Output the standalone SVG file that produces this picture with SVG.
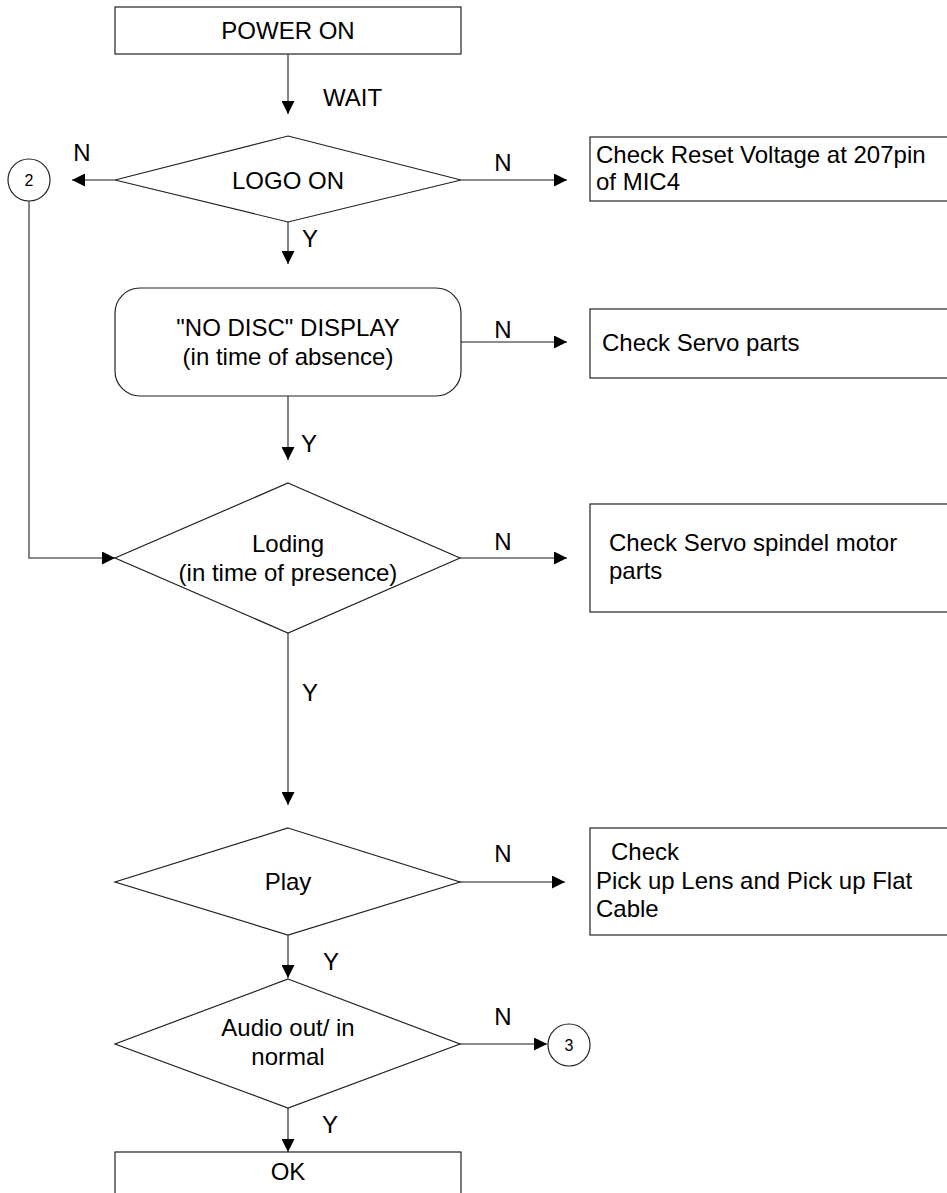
<svg xmlns="http://www.w3.org/2000/svg" width="947" height="1193" viewBox="0 0 947 1193">
<style>
.shape{fill:#fff;stroke:#222;stroke-width:1.2}
.conn{fill:none;stroke:#666;stroke-width:1.6}
text{font-family:"Liberation Sans",Arial,sans-serif;font-size:24px;fill:#000}
.c{text-anchor:middle}
.small{font-size:16px}
</style>
<defs>
<marker id="arr" markerUnits="userSpaceOnUse" markerWidth="14" markerHeight="13" refX="13" refY="6.5" orient="auto">
<path d="M0,0 L13,6.5 L0,13 z" fill="#000"/>
</marker>
</defs>
<rect width="947" height="1193" fill="#fff"/>

<g id="connectors">
<line class="conn" x1="288" y1="54" x2="288" y2="114" marker-end="url(#arr)"/>
<line class="conn" x1="115" y1="180" x2="72" y2="180" marker-end="url(#arr)"/>
<line class="conn" x1="461" y1="180" x2="567" y2="180" marker-end="url(#arr)"/>
<line class="conn" x1="288" y1="222" x2="288" y2="264" marker-end="url(#arr)"/>
<line class="conn" x1="461" y1="342" x2="567" y2="342" marker-end="url(#arr)"/>
<line class="conn" x1="288" y1="396" x2="288" y2="460" marker-end="url(#arr)"/>
<path class="conn" d="M29,201 V558 H115" marker-end="url(#arr)"/>
<line class="conn" x1="460" y1="558" x2="567" y2="558" marker-end="url(#arr)"/>
<line class="conn" x1="288" y1="633" x2="288" y2="805" marker-end="url(#arr)"/>
<line class="conn" x1="460" y1="882" x2="565" y2="882" marker-end="url(#arr)"/>
<line class="conn" x1="288" y1="935" x2="288" y2="978" marker-end="url(#arr)"/>
<line class="conn" x1="460" y1="1044" x2="547" y2="1044" marker-end="url(#arr)"/>
<line class="conn" x1="288" y1="1108" x2="288" y2="1152" marker-end="url(#arr)"/>
<text x="323" y="106">WAIT</text>
<text class="c" x="82" y="161">N</text>
<text class="c" x="503" y="171">N</text>
<text class="c" x="310" y="247">Y</text>
<text class="c" x="503" y="338">N</text>
<text class="c" x="309" y="452">Y</text>
<text class="c" x="503" y="550">N</text>
<text class="c" x="310" y="701">Y</text>
<text class="c" x="503" y="862">N</text>
<text class="c" x="331" y="970">Y</text>
<text class="c" x="503" y="1025">N</text>
<text class="c" x="330" y="1133">Y</text>
</g>

<g id="power-on">
<rect class="shape" x="115" y="7" width="346" height="47"/>
<text class="c" x="288" y="39">POWER ON</text>
</g>

<g id="logo-on">
<polygon class="shape" points="288,136 461,180 288,222 115,180"/>
<text class="c" x="288" y="189">LOGO ON</text>
</g>

<g id="conn-2">
<circle class="shape" cx="29" cy="180" r="21"/>
<text class="c small" x="29" y="186">2</text>
</g>

<g id="check-reset">
<rect class="shape" x="590" y="137" width="400" height="64"/>
<text x="596" y="163">Check Reset Voltage at 207pin</text>
<text x="596" y="190">of MIC4</text>
</g>

<g id="no-disc">
<rect class="shape" x="115" y="288" width="346" height="108" rx="25" ry="25"/>
<text class="c" x="288" y="336">"NO DISC" DISPLAY</text>
<text class="c" x="288" y="365">(in time of absence)</text>
</g>

<g id="check-servo">
<rect class="shape" x="590" y="309" width="400" height="69"/>
<text x="602" y="351">Check Servo parts</text>
</g>

<g id="loding">
<polygon class="shape" points="288,483 460,558 288,633 115,558"/>
<text class="c" x="288" y="552">Loding</text>
<text class="c" x="288" y="581">(in time of presence)</text>
</g>

<g id="check-spindel">
<rect class="shape" x="590" y="504" width="400" height="108"/>
<text x="609" y="551">Check Servo spindel motor</text>
<text x="609" y="579">parts</text>
</g>

<g id="play">
<polygon class="shape" points="288,828 460,882 288,935 115,882"/>
<text class="c" x="288" y="890">Play</text>
</g>

<g id="check-pickup">
<rect class="shape" x="590" y="828" width="400" height="107"/>
<text x="611" y="860">Check</text>
<text x="596" y="889">Pick up Lens and Pick up Flat</text>
<text x="596" y="917">Cable</text>
</g>

<g id="audio">
<polygon class="shape" points="288,979 460,1044 288,1108 115,1044"/>
<text class="c" x="288" y="1036">Audio out/ in</text>
<text class="c" x="288" y="1065">normal</text>
</g>

<g id="conn-3">
<circle class="shape" cx="569" cy="1045" r="21"/>
<text class="c small" x="569" y="1051">3</text>
</g>

<g id="ok">
<rect class="shape" x="115" y="1152" width="346" height="60"/>
<text class="c" x="288" y="1180">OK</text>
</g>
</svg>
